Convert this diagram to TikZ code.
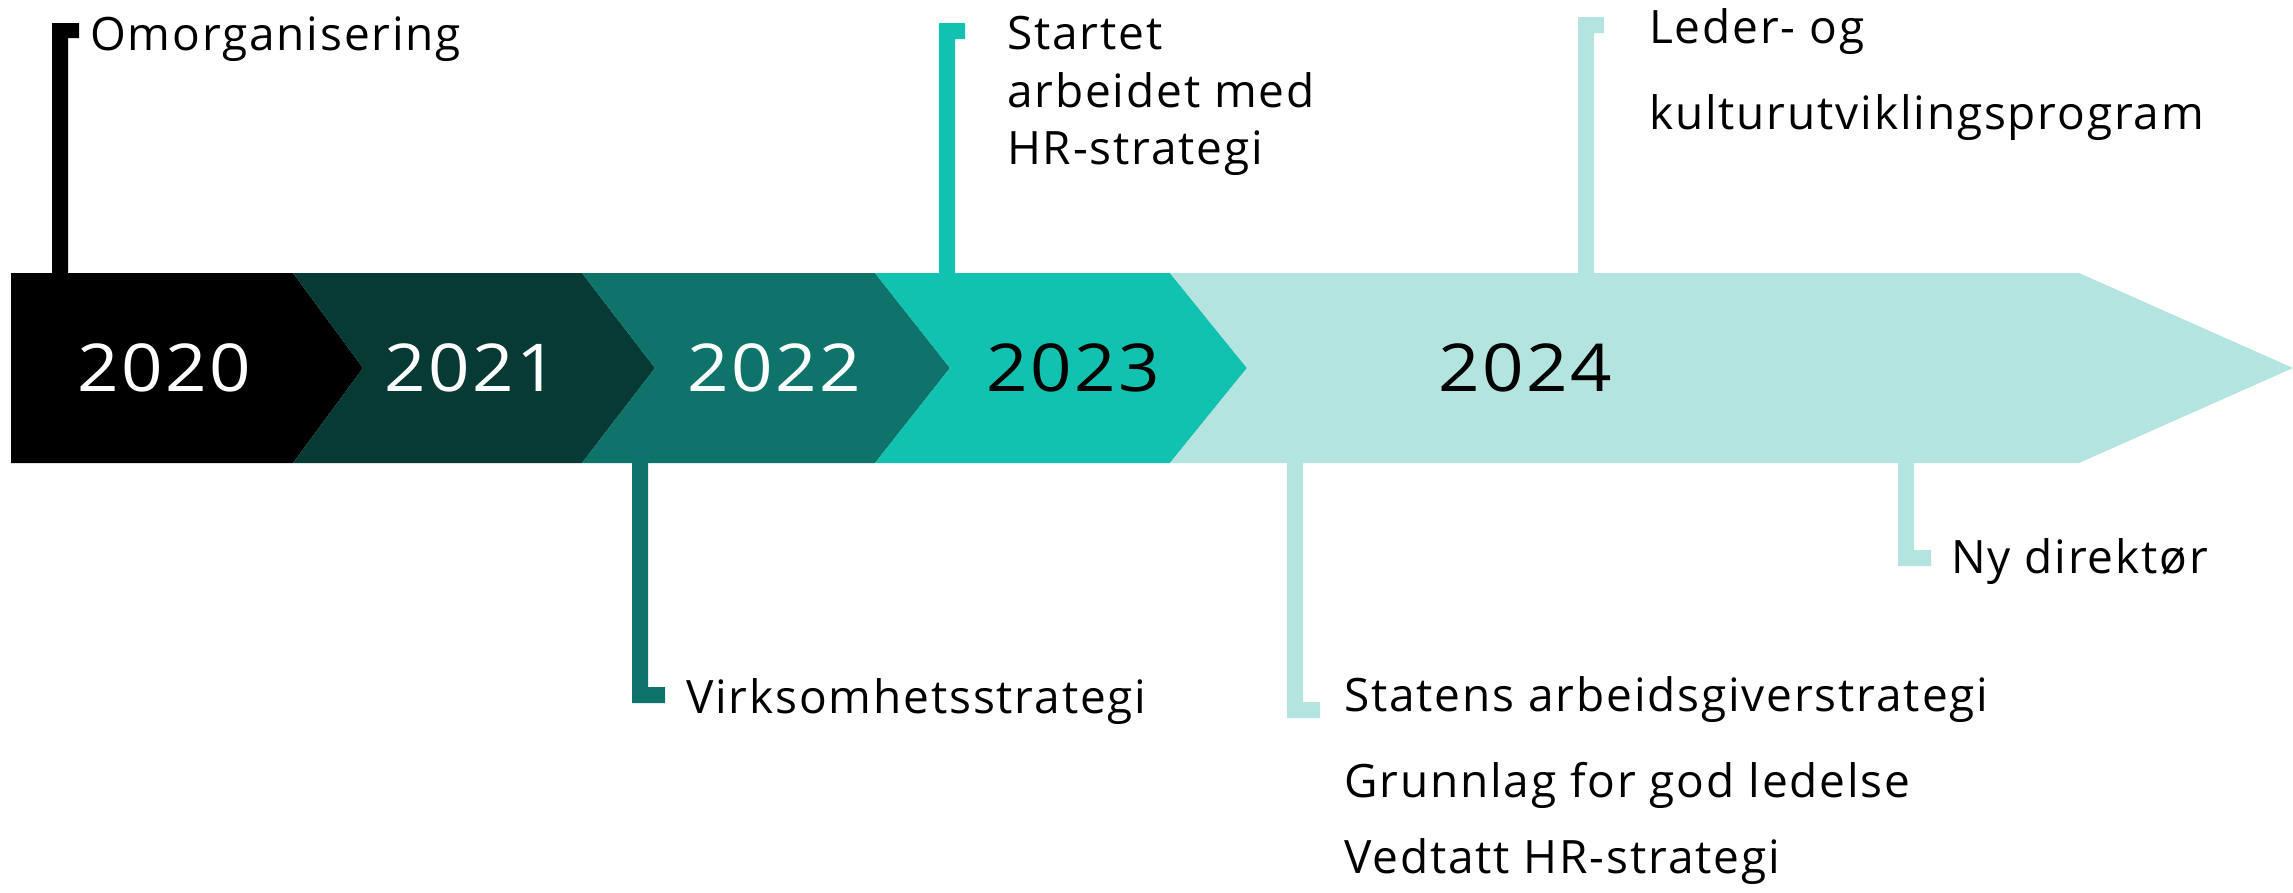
\documentclass[tikz,border=0pt]{standalone}
\usepackage{fontspec}
\setmainfont{Open Sans}[LetterSpace=4]
\newfontfamily\yrfont{Open Sans}[FakeStretch=1.1,LetterSpace=4]
\definecolor{cBlack}{HTML}{000000}
\definecolor{cDark}{HTML}{083A35}
\definecolor{cMid}{HTML}{0E7369}
\definecolor{cTeal}{HTML}{12C2B0}
\definecolor{cLight}{HTML}{B3E4E0}
\tikzset{
  lbl/.style={inner sep=0pt, anchor=base west, font=\fontsize{46}{46}\selectfont, text=black},
  yr/.style={inner sep=0pt, anchor=center, font=\yrfont\fontsize{66}{66}\selectfont},
}
\begin{document}
\begin{tikzpicture}[x=1pt,y=-1pt]
\useasboundingbox (0,0) rectangle (2293,892);
\def\T{273}\def\B{463}\def\M{368}
% band segments
\fill[cBlack] (11,\T) -- (293,\T) -- (363,\M) -- (293,\B) -- (11,\B) -- cycle;
\fill[cDark] (293,\T) -- (582,\T) -- (655,\M) -- (582,\B) -- (293,\B) -- (363,\M) -- cycle;
\fill[cMid] (582,\T) -- (875,\T) -- (950,\M) -- (875,\B) -- (582,\B) -- (655,\M) -- cycle;
\fill[cTeal] (875,\T) -- (1170,\T) -- (1247,\M) -- (1170,\B) -- (875,\B) -- (950,\M) -- cycle;
\fill[cLight] (1170,\T) -- (2079,\T) -- (2293,\M) -- (2079,\B) -- (1170,\B) -- (1247,\M) -- cycle;
% years
\node[yr, text=white] (y2020) at (164,\M) {2020};
\node[yr, text=white] (y2021) at (471,\M) {2021};
\node[yr, text=white] (y2022) at (774,\M) {2022};
\node[yr, text=black] (y2023) at (1073,\M) {2023};
\node[yr, text=black] (y2024) at (1525,\M) {2024};
% stems above
\fill[cBlack] (52,\T) -- (52,23) -- (79,23) -- (79,38) -- (68,38) -- (68,\T) -- cycle;
\fill[cTeal] (939,\T) -- (939,23) -- (965,23) -- (965,39) -- (955,39) -- (955,\T) -- cycle;
\fill[cLight] (1578,\T) -- (1578,17) -- (1604,17) -- (1604,33) -- (1594,33) -- (1594,\T) -- cycle;
% stems below
\fill[cMid] (632,\B) -- (632,703) -- (665,703) -- (665,687) -- (648,687) -- (648,\B) -- cycle;
\fill[cLight] (1287,\B) -- (1287,718) -- (1320,718) -- (1320,702) -- (1303,702) -- (1303,\B) -- cycle;
\fill[cLight] (1898,\B) -- (1898,566) -- (1931,566) -- (1931,550) -- (1914,550) -- (1914,\B) -- cycle;
% labels
\node[lbl] (omorg) at (90,50) {Omorganisering};
\node[lbl] (st1) at (1007,49) {Startet};
\node[lbl] (st2) at (1007,107) {arbeidet med};
\node[lbl] (st3) at (1007,164) {HR-strategi};
\node[lbl] (le1) at (1649,43) {Leder- og};
\node[lbl] (le2) at (1649,129) {kulturutviklingsprogram};
\node[lbl] (virk) at (686,713) {Virksomhetsstrategi};
\node[lbl] (sa1) at (1344,711) {Statens arbeidsgiverstrategi};
\node[lbl] (sa2) at (1344,797) {Grunnlag for god ledelse};
\node[lbl] (sa3) at (1344,873) {Vedtatt HR-strategi};
\node[lbl] (ny) at (1951,573) {Ny direktør};
\end{tikzpicture}
\end{document}
